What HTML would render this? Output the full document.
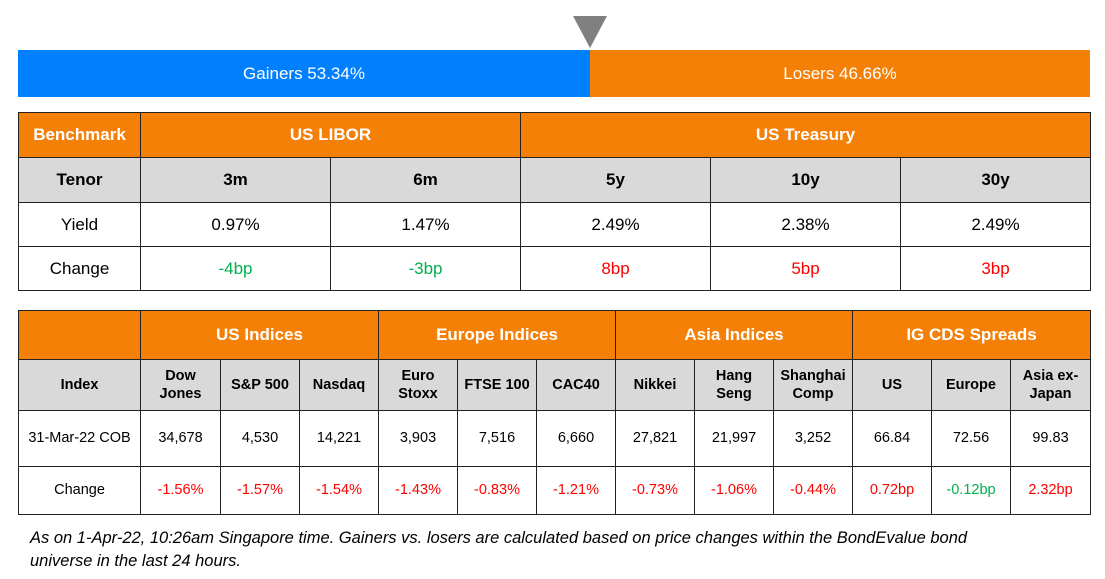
<!DOCTYPE html>
<html><head><meta charset="utf-8"><style>
body{margin:0;width:1105px;height:579px;background:#fff;font-family:"Liberation Sans",sans-serif;position:relative;overflow:hidden}
.c{position:absolute;box-sizing:border-box;display:flex;align-items:center;justify-content:center;text-align:center;border:1px solid #222;line-height:1.25}
.o{background:#f58008;color:#fff;font-weight:bold}
.g{background:#d9d9d9;color:#000;font-weight:bold}
.w{background:#fff;color:#000}
.r{color:#f00}.gr{color:#00b050}
.t1{font-size:17px}.t2{font-size:14.5px}
.h2{font-size:17px}
</style></head><body>
<div style="position:absolute;left:18px;top:50px;width:572px;height:47px;background:#0080ff;color:#fff;font-size:17px;display:flex;align-items:center;justify-content:center">Gainers 53.34%</div>
<div style="position:absolute;left:590px;top:50px;width:500px;height:47px;background:#f58008;color:#fff;font-size:17px;display:flex;align-items:center;justify-content:center">Losers 46.66%</div>
<div style="position:absolute;left:573px;top:16px;width:0;height:0;border-left:17px solid transparent;border-right:17px solid transparent;border-top:32px solid #808080"></div>
<div style="position:absolute;left:30px;top:527px;width:990px;font-size:16.5px;font-style:italic;line-height:23px;color:#000">As on 1-Apr-22, 10:26am Singapore time. Gainers vs. losers are calculated based on price changes within the BondEvalue bond universe in the last 24 hours.</div>
<script>
function cell(x1,y1,x2,y2,cls,txt){var d=document.createElement('div');d.className='c '+cls;d.style.left=x1+'px';d.style.top=y1+'px';d.style.width=(x2-x1+1)+'px';d.style.height=(y2-y1+1)+'px';d.innerHTML=txt;document.body.appendChild(d);}
var X=[18,140,330,520,710,900,1090],Y=[112,157,202,246,290];
cell(18,112,140,157,'o t1','Benchmark');cell(140,112,520,157,'o t1','US LIBOR');cell(520,112,1090,157,'o t1','US Treasury');
var rows=[['g','Tenor','3m','6m','5y','10y','30y'],['w','Yield','0.97%','1.47%','2.49%','2.38%','2.49%'],['w','Change','<span class="gr">-4bp</span>','<span class="gr">-3bp</span>','<span class="r">8bp</span>','<span class="r">5bp</span>','<span class="r">3bp</span>']];
rows.forEach(function(r,i){for(var j=0;j<6;j++)cell(X[j],Y[i+1],X[j+1],Y[i+2],r[0]+' t1',r[j+1]);});
var X2=[18,140,220,299,378,457,536,615,694,773,852,931,1010,1090],Y2=[310,359,410,466,514];
cell(18,310,140,359,'o h2','');
var grp=['US Indices','Europe Indices','Asia Indices','IG CDS Spreads'];
for(var k=0;k<4;k++)cell(X2[1+3*k],310,X2[4+3*k],359,'o h2',grp[k]);
var r2=[['g','Index','Dow<br>Jones','S&amp;P 500','Nasdaq','Euro<br>Stoxx','FTSE 100','CAC40','Nikkei','Hang<br>Seng','Shanghai<br>Comp','US','Europe','Asia ex-<br>Japan'],
['w','31-Mar-22 COB','34,678','4,530','14,221','3,903','7,516','6,660','27,821','21,997','3,252','66.84','72.56','99.83'],
['w','Change','<span class="r">-1.56%</span>','<span class="r">-1.57%</span>','<span class="r">-1.54%</span>','<span class="r">-1.43%</span>','<span class="r">-0.83%</span>','<span class="r">-1.21%</span>','<span class="r">-0.73%</span>','<span class="r">-1.06%</span>','<span class="r">-0.44%</span>','<span class="r">0.72bp</span>','<span class="gr">-0.12bp</span>','<span class="r">2.32bp</span>']];
r2.forEach(function(r,i){for(var j=0;j<13;j++)cell(X2[j],Y2[i+1],X2[j+1],Y2[i+2],r[0]+' t2',r[j+1]);});
</script>
</body></html>
